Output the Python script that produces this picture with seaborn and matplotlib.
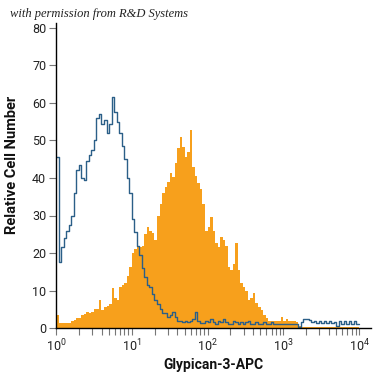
import numpy as np
import pandas as pd
import matplotlib
matplotlib.use("Agg")
import matplotlib.pyplot as plt
import seaborn as sns

# ---------------- data (relative cell number per channel, 30 channels/decade) ----------------
control_counts = [
    45.5, 17.5, 21.6, 24, 26, 27.5, 30, 36, 42, 43.5,
    40, 39.5, 44.5, 46, 47.5, 50, 56, 57, 54.5, 55.5,
    52, 54.5, 61.7, 57.5, 55, 52, 48.5, 45, 40, 36,
    29, 25.5, 22, 19.5, 16, 13.6, 11.5, 11, 9, 7.5,
    6.5, 5, 4, 4, 3, 3.5, 4.3, 3, 2, 2,
    1.5, 2, 1.5, 2, 2.5, 4.3, 2, 1.3, 1.3, 2,
    1.5, 2.5, 1.5, 1, 2, 1.5, 2.5, 1.5, 1, 1,
    2, 1.5, 1, 1.5, 1, 1.5, 2, 1, 1, 1.5,
    1, 1, 1.5, 1, 1, 1.5, 1, 1, 1, 1,
    1, 1, 1, 1, 1, 1, 0.3, 1.5, 2.5, 2.3,
    2.2, 1.5, 1.8, 1.3, 1.8, 1.3, 1.8, 1.3, 1.8, 1.3,
    1.5, 0.5, 1.8, 1.2, 2, 1.2, 2, 1, 2, 1,
]
glypican_counts = [
    3.5, 1.4, 1.4, 1.4, 1.4, 1.4, 2, 2.2, 2.6, 2.8,
    3.5, 3.8, 4.3, 4, 4.3, 5, 5, 7.5, 4.8, 5.5,
    6, 6.5, 10.6, 8, 7.5, 11, 11.5, 12, 14, 16.3,
    20, 21, 22, 21.6, 22, 25, 27, 26, 25.3, 23.5,
    30, 33, 36, 37.6, 39, 41.3, 40.3, 44, 48, 51,
    48.3, 45.6, 47, 52.8, 43, 40.5, 38.6, 37, 33, 26,
    27, 29.6, 26, 22.6, 21.6, 24.3, 23.5, 22, 16.3, 15.5,
    17, 22.6, 15.5, 12, 11, 10, 7.5, 8, 9.3, 6.6,
    5.6, 4.8, 3.5, 2.6, 2, 1.8, 1.8, 2, 1.8, 3,
    1.8, 2.5, 1.8, 1.8, 1.8, 1.5, 0.5, 0.2, 0.2, 0.2,
    0.2, 0.2, 0.2, 0.2, 0.2, 0.2, 0.2, 0.2, 0.2, 0.2,
    0.2, 0.2, 0.2, 0.2, 0.2, 0.2, 0.2, 0.2, 0.2, 0.2,
]
decades = 4
channels_per_decade = 30
y_ticks = [0, 10, 20, 30, 40, 50, 60, 70, 80]
x_label = "Glypican-3-APC"
y_label = "Relative Cell Number"
credit = "with permission from R&D Systems"

# ---------------- fonts ----------------
sns.set_theme(style="white")
plt.rcParams["font.family"] = ["Roboto", "DejaVu Sans"]
plt.rcParams["mathtext.fontset"] = "custom"
plt.rcParams["mathtext.rm"] = "Roboto"
plt.rcParams["mathtext.it"] = "Roboto"
plt.rcParams["mathtext.bf"] = "Roboto:bold"

n = decades * channels_per_decade
centers = 10 ** ((np.arange(n) + 0.5) / channels_per_decade)
df = pd.DataFrame({"x": centers, "control": control_counts, "glypican": glypican_counts})

fig = plt.figure(figsize=(3.75, 3.75), dpi=100)
ax = fig.add_axes([56 / 375, 47 / 375, (371 - 56) / 375, (328 - 23) / 375])

orange = "#f7a01c"
blue = "#2b5f88"

sns.histplot(data=df, x="x", weights="glypican", bins=n, binrange=(0, decades),
             log_scale=True, element="step", fill=True, color=orange, alpha=1,
             linewidth=0, ax=ax)
sns.histplot(data=df, x="x", weights="control", bins=n, binrange=(0, decades),
             log_scale=True, element="step", fill=False, color=blue,
             linewidth=1.0, ax=ax)

ax.set_xlim(1, 10 ** ((371 - 56) / 75.75))
ax.set_ylim(0, (328 - 23) / 3.75)
ax.set_yticks(y_ticks)
ax.set_xticks([1, 10, 100, 1000, 10000])
ax.set_xticklabels([r"$10^{%d}$" % k for k in range(5)])
ax.xaxis.set_minor_locator(matplotlib.ticker.LogLocator(base=10, subs=np.arange(2, 10), numticks=20))
ax.xaxis.set_minor_formatter(matplotlib.ticker.NullFormatter())

for s in ["top", "right"]:
    ax.spines[s].set_visible(False)
for s in ["left", "bottom"]:
    ax.spines[s].set_color("black")
    ax.spines[s].set_linewidth(1.0)

ax.tick_params(axis="both", which="major", direction="out", length=5, width=0.8,
               color="#777777", labelsize=9, labelcolor="#222222", pad=2,
               bottom=True, left=True)
ax.tick_params(axis="x", which="minor", direction="out", length=5, width=0.8,
               color="#777777", bottom=True)

ax.set_xlabel(x_label, fontsize=10, fontweight="bold", color="#111111", labelpad=3)
ax.set_ylabel(y_label, fontsize=10.5, fontweight="bold", color="#111111")
ax.yaxis.set_label_coords((19 - 56) / 315, (328 - 165) / 305)

fig.text(10 / 375, 1 - 17 / 375, credit, fontsize=9, style="italic",
         family=["Liberation Serif", "DejaVu Serif"], color="#222222")

fig.savefig("out.png", dpi=100)
